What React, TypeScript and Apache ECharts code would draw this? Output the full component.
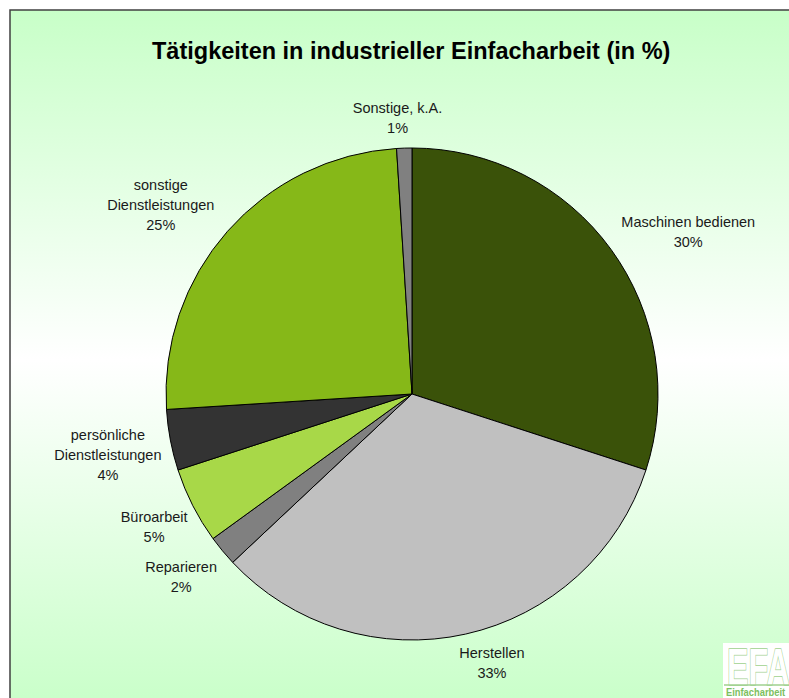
import React, { useEffect, useRef } from 'react';
import * as echarts from 'echarts';

const titleText = 'Tätigkeiten in industrieller Einfacharbeit (in %)';
const categories = [
  'Maschinen bedienen',
  'Herstellen',
  'Reparieren',
  'Büroarbeit',
  'persönliche\nDienstleistungen',
  'sonstige\nDienstleistungen',
  'Sonstige, k.A.',
];
const values = [30, 33, 2, 5, 4, 25, 1];
const colors = ['#3a5209', '#c0c0c0', '#808080', '#a8d848', '#333333', '#86b818', '#808080'];

// fine label nudges (layout only, in px), Excel-style placement
const LABEL_NUDGE: [number, number][] = [
  [15, 0],
  [17, 0],
  [-6, 7],
  [0, 8],
  [0, 7],
  [-19, 0],
  [-5, 0],
];

const W = 789;
const H = 698;
const CX = 412;
const CY = 394;
const R = 246;
const GAP = 10;
const FONT = '"Liberation Sans", Arial, sans-serif';

export default function App() {
  const ref = useRef<HTMLDivElement>(null);
  useEffect(() => {
    if (!ref.current) return;
    const chart = echarts.init(ref.current, null, { renderer: 'svg' });
    const total = values.reduce((a, b) => a + b, 0);
    const option: any = {
      animation: false,
      graphic: [
        {
          type: 'rect',
          z: -10,
          silent: true,
          shape: { x: 10, y: 10, width: 900, height: 700 },
          style: {
            fill: new echarts.graphic.LinearGradient(0, 0, 0, 1, [
              { offset: 0, color: '#c8ffc8' },
              { offset: 0.5, color: '#ffffff' },
              { offset: 1, color: '#c8ffc8' },
            ]),
            stroke: '#404040',
            lineWidth: 1.5,
          },
        },
        {
          type: 'group',
          z: 10,
          children: [
            { type: 'rect', shape: { x: 723, y: 643, width: 80, height: 60 }, style: { fill: '#ffffff' } },
            {
              type: 'text',
              x: 727,
              y: 641,
              scaleX: 0.62,
              style: {
                text: 'EFA',
                font: 'bold 52px "Liberation Sans", Arial, sans-serif',
                fill: '#ffffff',
                stroke: '#9fd18f',
                lineWidth: 1.5,
              },
            },
            { type: 'line', shape: { x1: 724, y1: 685, x2: 800, y2: 685 }, style: { stroke: '#9fd18f', lineWidth: 1.5 } },
            {
              type: 'text',
              x: 726,
              y: 687,
              scaleX: 0.85,
              style: {
                text: 'Einfacharbeit',
                font: 'bold 11px "Liberation Sans", Arial, sans-serif',
                fill: '#7cc060',
              },
            },
          ],
        },
      ],
      title: {
        text: titleText,
        left: 147,
        top: 34,
        textStyle: { fontSize: 23.5, fontWeight: 'bold', fontFamily: FONT, color: '#000000' },
      },
      series: [
        {
          type: 'pie',
          center: [CX, CY],
          radius: R,
          startAngle: 90,
          clockwise: true,
          avoidLabelOverlap: false,
          data: categories.map((name, i) => ({
            name,
            value: values[i],
            itemStyle: { color: colors[i] },
          })),
          itemStyle: { borderColor: '#000000', borderWidth: 1 },
          label: {
            show: true,
            position: 'outside',
            formatter: (p: any) => `${p.name}\n${values[p.dataIndex]}%`,
            fontSize: 14.5,
            lineHeight: 20,
            fontFamily: FONT,
            color: '#1a1a1a',
            align: 'center',
          },
          labelLine: { show: false },
          labelLayout: (params: any) => {
            const i = params.dataIndex;
            let cum = 0;
            for (let k = 0; k < i; k++) cum += values[k];
            const mid = ((cum + values[i] / 2) / total) * 2 * Math.PI;
            const dx = Math.sin(mid);
            const dy = -Math.cos(mid);
            const w = params.labelRect.width;
            const h = params.labelRect.height;
            const d = R + GAP;
            const [nx, ny] = LABEL_NUDGE[i];
            return {
              x: CX + dx * d + (dx * w) / 2 + nx,
              y: CY + dy * d + (dy * h) / 2 + ny,
              align: 'center',
              verticalAlign: 'middle',
            };
          },
          emphasis: { disabled: true },
        },
      ],
    };
    chart.setOption(option);
    return () => chart.dispose();
  }, []);
  return (
    <div
      ref={ref}
      style={{ position: 'fixed', left: 0, top: 0, width: W, height: H, background: '#ffffff' }}
    />
  );
}
